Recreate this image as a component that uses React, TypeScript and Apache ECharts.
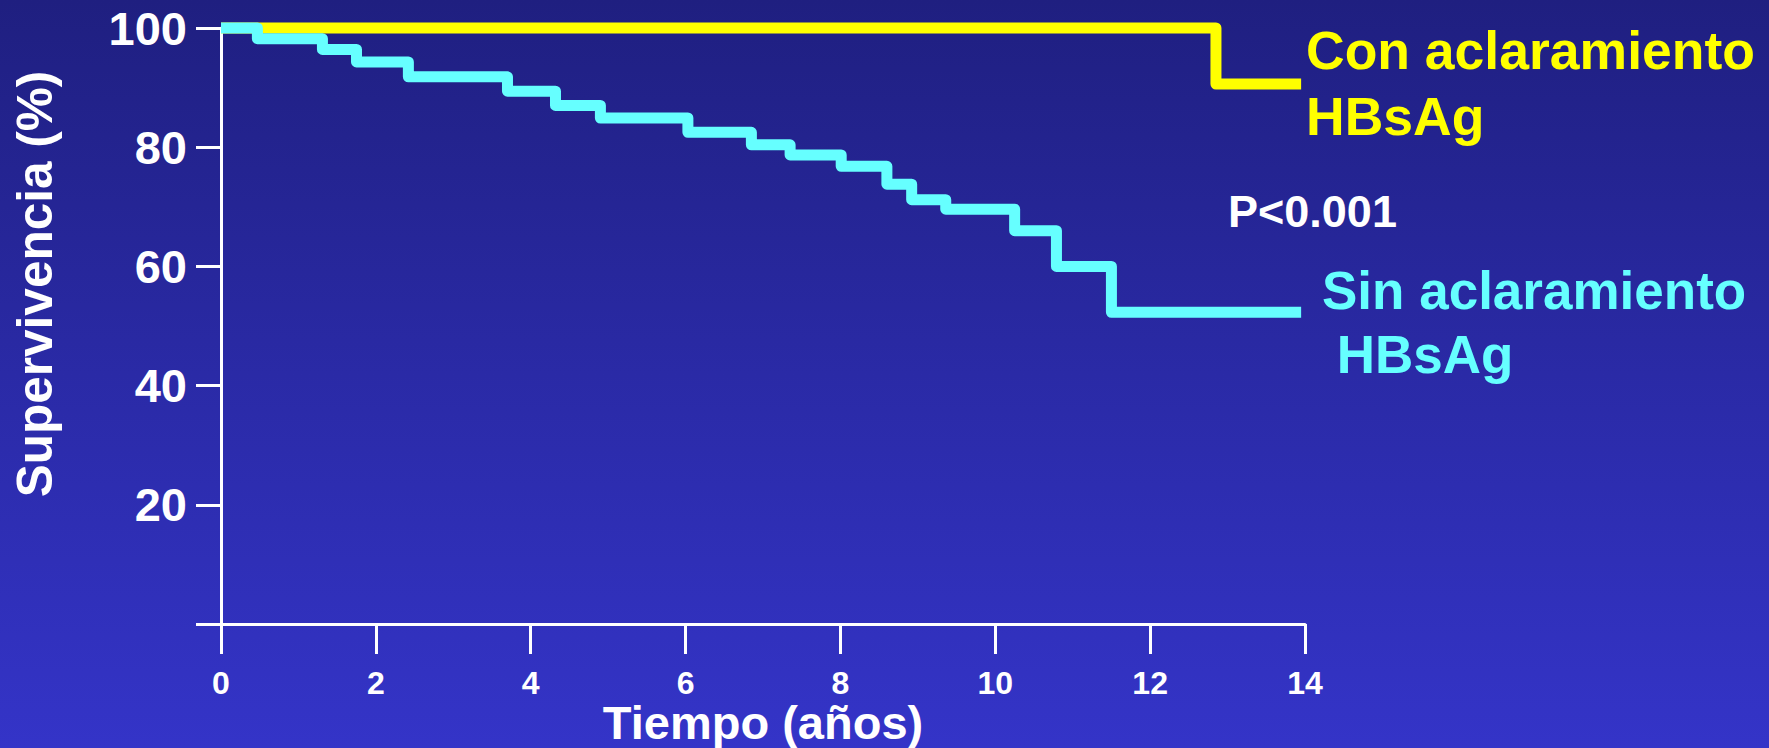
import React, { useEffect, useRef } from "react";
import * as echarts from "echarts";

// Kaplan-Meier survival curves (time in years, survival %)
const sinTimes = [0, 0.47, 1.31, 1.75, 2.42, 3.7, 4.32, 4.9, 6.03, 6.85, 7.35, 8.01, 8.6, 8.92, 9.36, 10.25, 10.79, 11.5, 13.95];
const sinValues = [100, 98.2, 96.4, 94.3, 91.8, 89.4, 87.0, 84.9, 82.5, 80.4, 78.7, 76.8, 73.8, 71.2, 69.6, 66.0, 60.0, 52.3, 52.3];
const conTimes = [0, 12.85, 13.95];
const conValues = [100, 90.6, 90.6];

const xTicks = [0, 2, 4, 6, 8, 10, 12, 14];
const yTicks = [0, 20, 40, 60, 80, 100];

const xAxisTitle = "Tiempo (años)";
const yAxisTitle = "Supervivencia (%)";
const conLabel = ["Con aclaramiento", "HBsAg"];
const sinLabel = ["Sin aclaramiento", " HBsAg"];
const pValueText = "P<0.001";

const FONT = 'Arial, "Liberation Sans", sans-serif';

export default function App() {
  const ref = useRef<HTMLDivElement>(null);

  useEffect(() => {
    if (!ref.current) return;
    const chart = echarts.init(ref.current, null, { renderer: "svg" });

    const sinData = sinTimes.map((t, i) => [t, sinValues[i]]);
    const conData = conTimes.map((t, i) => [t, conValues[i]]);

    chart.setOption({
      animation: false,
      backgroundColor: "transparent",
      grid: { left: 221, right: 464, top: 28, bottom: 124, containLabel: false, outerBoundsMode: "none" },
      xAxis: {
        type: "value",
        min: xTicks[0],
        max: xTicks[xTicks.length - 1],
        interval: 2,
        name: xAxisTitle,
        nameLocation: "middle",
        nameGap: 75,
        nameMoveOverlap: false,
        nameTextStyle: { color: "#FFFFFF", fontSize: 47, fontWeight: "bold", fontFamily: FONT },
        axisLine: { show: true, lineStyle: { color: "#FFFFFF", width: 3 } },
        axisTick: { show: true, length: 30, lineStyle: { color: "#FFFFFF", width: 3 } },
        axisLabel: { color: "#FFFFFF", fontSize: 32, fontWeight: "bold", fontFamily: FONT, margin: 43 },
        splitLine: { show: false },
      },
      yAxis: {
        type: "value",
        min: yTicks[0],
        max: yTicks[yTicks.length - 1],
        interval: 20,
        axisLine: { show: true, lineStyle: { color: "#FFFFFF", width: 3 } },
        axisTick: { show: true, length: 25, lineStyle: { color: "#FFFFFF", width: 3 } },
        axisLabel: {
          color: "#FFFFFF",
          fontSize: 47,
          fontWeight: "bold",
          fontFamily: FONT,
          margin: 34,
          formatter: (v: number) => (v === 0 ? "" : String(v)),
        },
        splitLine: { show: false },
      },
      series: [
        {
          name: "Con aclaramiento HBsAg",
          type: "line",
          step: "end",
          data: conData,
          showSymbol: false,
          symbol: "none",
          clip: false,
          lineStyle: { color: "#FFFF00", width: 11, join: "round", cap: "butt" },
        },
        {
          name: "Sin aclaramiento HBsAg",
          type: "line",
          step: "end",
          data: sinData,
          showSymbol: false,
          symbol: "none",
          clip: false,
          lineStyle: { color: "#66FFFF", width: 11, join: "round", cap: "butt" },
        },
      ],
      graphic: [
        {
          type: "text",
          x: 34,
          y: 284,
          rotation: Math.PI / 2,
          style: {
            text: yAxisTitle,
            fill: "#FFFFFF",
            font: `bold 49.5px ${FONT}`,
            align: "center",
            verticalAlign: "middle",
          },
        },
        {
          type: "text",
          x: 1306,
          y: 50,
          style: { text: conLabel[0], fill: "#FFFF00", font: `bold 53.5px ${FONT}`, align: "left", verticalAlign: "middle" },
        },
        {
          type: "text",
          x: 1306,
          y: 116,
          style: { text: conLabel[1], fill: "#FFFF00", font: `bold 53.5px ${FONT}`, align: "left", verticalAlign: "middle" },
        },
        {
          type: "text",
          x: 1228,
          y: 211,
          style: { text: pValueText, fill: "#FFFFFF", font: `bold 45px ${FONT}`, align: "left", verticalAlign: "middle" },
        },
        {
          type: "text",
          x: 1322,
          y: 290,
          style: { text: sinLabel[0], fill: "#66FFFF", font: `bold 53px ${FONT}`, align: "left", verticalAlign: "middle" },
        },
        {
          type: "text",
          x: 1322,
          y: 354,
          style: { text: sinLabel[1], fill: "#66FFFF", font: `bold 53px ${FONT}`, align: "left", verticalAlign: "middle" },
        },
      ],
    });

    return () => chart.dispose();
  }, []);

  return (
    <div
      ref={ref}
      style={{
        position: "fixed",
        left: 0,
        top: 0,
        width: 1769,
        height: 748,
        background: "linear-gradient(to bottom, #1F1F80 0%, #2A2AA6 50%, #3434C8 100%)",
      }}
    />
  );
}
